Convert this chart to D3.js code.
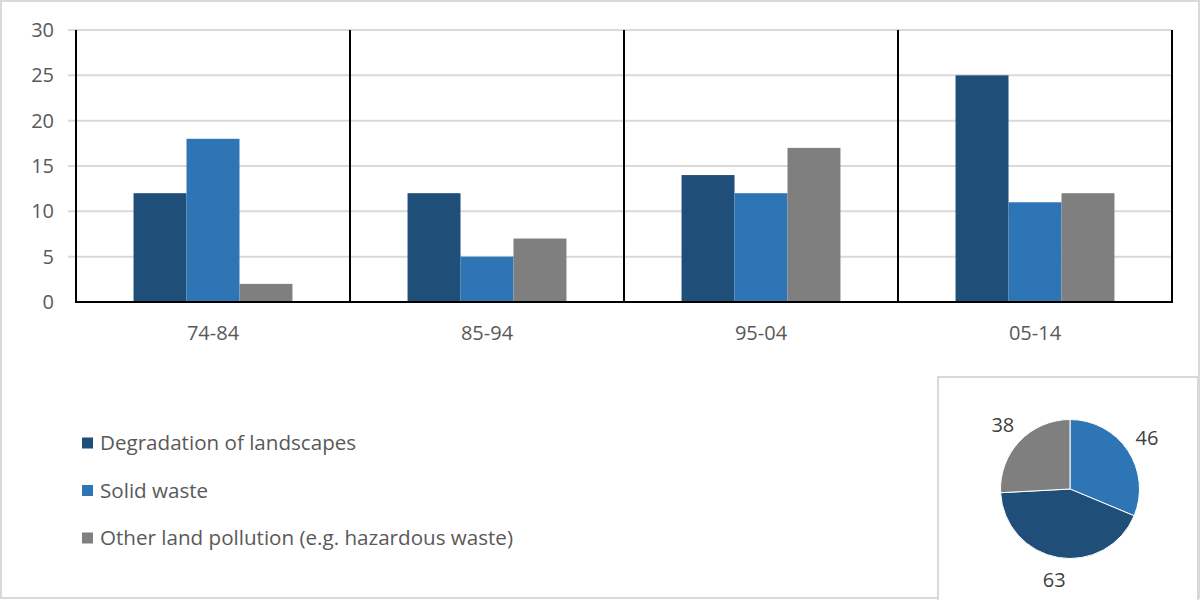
<!DOCTYPE html>
<html><head><meta charset="utf-8">
<script src="https://cdn.jsdelivr.net/npm/d3@7"></script>
<style>body{margin:0;background:#fff}svg{display:block}text{font-family:"Open Sans",sans-serif}</style>
</head><body><svg id="c" width="1201" height="600"></svg>
<script>
const categories = ["74-84","85-94","95-04","05-14"];
const seriesNames = ["Degradation of landscapes","Solid waste","Other land pollution (e.g. hazardous waste)"];
const degradation = [12,12,14,25];
const solidWaste = [18,5,12,11];
const otherPollution = [2,7,17,12];
const yTicks = [0,5,10,15,20,25,30];
const pieOrder = ["Solid waste","Degradation of landscapes","Other land pollution (e.g. hazardous waste)"];
const pieValues = [46,63,38];
const colors = ["#1F4E79","#2E75B6","#7F7F7F"];

const svg = d3.select("#c");
svg.append("rect").attr("x",1).attr("y",1).attr("width",1198).attr("height",597)
  .attr("fill","#fff").attr("stroke","#D9D9D9").attr("stroke-width",2);

const L=76,R=1172,T=30,B=302;
const FS=20, LFS=20.6;
const x0 = d3.scaleBand().domain(categories).range([L,R]).padding(0);
const groupW = x0.bandwidth()*0.58;
const x1 = d3.scaleBand().domain(seriesNames).range([0,groupW]);
const y = d3.scaleLinear().domain([0,30]).range([B,T]);

// gridlines
svg.append("g").selectAll("line").data(yTicks.filter(d=>d>0)).join("line")
  .attr("x1",L-8).attr("x2",R).attr("y1",d=>y(d)).attr("y2",d=>y(d))
  .attr("stroke","#D9D9D9").attr("stroke-width",2);

// y labels
svg.append("g").selectAll("text").data(yTicks).join("text")
  .attr("x",54).attr("y",d=>y(d)).attr("dy","0.35em").attr("text-anchor","end")
  .attr("font-size",FS).attr("fill","#595959").text(d=>d);

const data = [degradation,solidWaste,otherPollution];
const g = svg.append("g");
categories.forEach((c,i)=>{
  const off = x0(c)+(x0.bandwidth()-groupW)/2;
  g.selectAll(null).data(seriesNames).join("rect")
    .attr("x",s=>off+x1(s)).attr("width",x1.bandwidth())
    .attr("y",(s,j)=>y(data[j][i])).attr("height",(s,j)=>B-y(data[j][i]))
    .attr("fill",(s,j)=>colors[j]);
});

// category separators
const seps = categories.map(c=>x0(c)).concat([R]);
svg.append("g").selectAll("line").data(seps).join("line")
  .attr("x1",d=>d).attr("x2",d=>d).attr("y1",T).attr("y2",B+1)
  .attr("stroke","#000").attr("stroke-width",2);
svg.append("line").attr("x1",L-1).attr("x2",R+1).attr("y1",B).attr("y2",B)
  .attr("stroke","#000").attr("stroke-width",2);

// category labels
svg.append("g").selectAll("text").data(categories).join("text")
  .attr("x",c=>x0(c)+x0.bandwidth()/2).attr("y",333).attr("dy","0.35em")
  .attr("text-anchor","middle").attr("font-size",FS).attr("fill","#595959").text(c=>c);

// legend
const leg = svg.append("g").selectAll("g").data(seriesNames).join("g")
  .attr("transform",(d,i)=>`translate(82,${443+i*47.5})`);
leg.append("rect").attr("x",0).attr("y",-5.5).attr("width",11).attr("height",11).attr("fill",(d,i)=>colors[i]);
leg.append("text").attr("x",18).attr("dy","0.35em").attr("font-size",LFS).attr("fill","#595959").text(d=>d);

// pie box
svg.append("rect").attr("x",938).attr("y",377).attr("width",260).attr("height",240)
  .attr("fill","#fff").attr("stroke","#D9D9D9").attr("stroke-width",2);
const cx=1070,cy=489,r=69.5;
const pie = d3.pie().sort(null)(pieValues);
const arc = d3.arc().innerRadius(0).outerRadius(r);
const pg = svg.append("g").attr("transform",`translate(${cx},${cy})`);
pg.selectAll("path").data(pie).join("path").attr("d",arc)
  .attr("fill",(d,i)=>colors[seriesNames.indexOf(pieOrder[i])])
  .attr("stroke","#fff").attr("stroke-width",1);
const labelArc = d3.arc().innerRadius(r+23).outerRadius(r+23);
pg.selectAll("text").data(pie).join("text")
  .attr("transform",d=>`translate(${labelArc.centroid(d)})`)
  .attr("dy","0.35em").attr("text-anchor","middle").attr("font-size",FS).attr("fill","#404040")
  .text(d=>d.data);
</script></body></html>
